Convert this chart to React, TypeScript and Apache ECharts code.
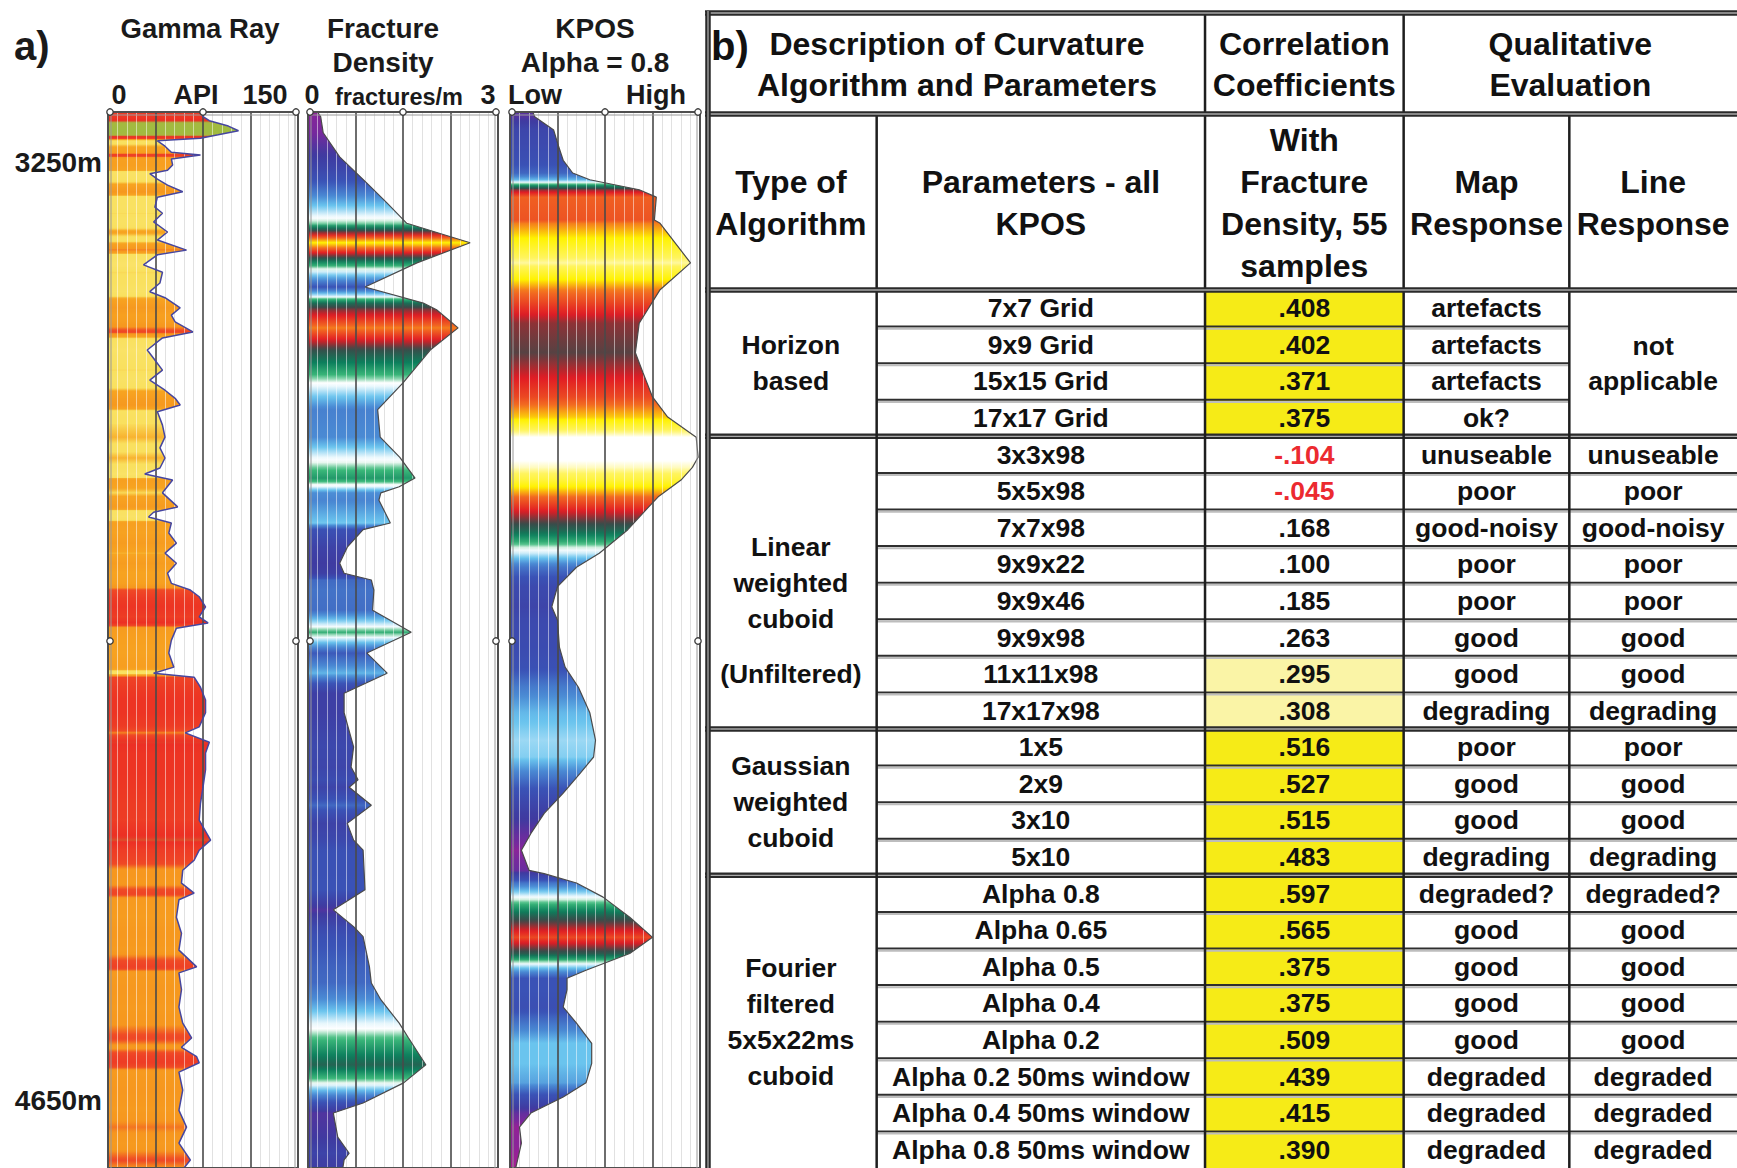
import { useEffect, useRef } from 'react';
import * as echarts from 'echarts';

// ---------------- data ----------------
const DEPTH_LABELS = [3250, 4650];

const GR_DEPTH = [3175,3182,3188,3196,3203,3209,3214,3218,3226,3235,3239,3245,3254,3262,3267,3275,3284,3294,3302,3317,3326,3339,3354,3366,3381,3388,3403,3414,3430,3443,3452,3467,3478,3488,3503,3512,3530,3545,3560,3575,3590,3602,3612,3622,3642,3660,3676,3691,3706,3715,3724,3743,3764,3772,3779,3788,3803,3818,3833,3848,3863,3878,3888,3898,3913,3928,3937,3945,3963,3982,4003,4012,4018,4033,4052,4071,4092,4101,4115,4131,4156,4182,4206,4231,4261,4276,4291,4306,4325,4340,4350,4376,4400,4425,4450,4459,4484,4510,4534,4556,4570,4584,4593,4607,4634,4664,4689,4713,4738,4750];
const GR_API = [73,75,80,95,103,87,73,39,45,50,73,50,51,47,33,39,47,59,39,37,43,36,47,39,62,39,28,43,41,33,45,57,50,53,67,43,31,37,43,33,45,53,57,39,43,45,41,45,41,29,51,43,55,36,32,50,48,54,45,54,47,50,65,72,77,72,79,54,50,48,52,36,68,73,77,77,72,61,80,77,77,75,73,72,81,72,68,59,58,68,56,54,58,56,70,56,58,56,59,66,58,70,72,56,59,56,62,56,65,60];

const FRAC_DEPTH = [3175,3182,3206,3242,3281,3311,3341,3370,3400,3436,3460,3470,3497,3530,3579,3619,3660,3690,3721,3734,3743,3754,3788,3798,3824,3848,3863,3873,3888,3918,3951,3982,4012,4042,4071,4122,4152,4171,4182,4209,4236,4261,4276,4335,4365,4390,4405,4450,4474,4499,4534,4555,4596,4623,4653,4668,4704,4728,4738,4750];
const FRAC_VALUE = [0.15,0.2,0.24,0.5,0.93,1.25,1.56,2.56,1.72,0.9,1.82,2.03,2.37,1.93,1.5,1.1,1.14,1.45,1.69,1.44,1.15,1.12,1.3,0.87,0.62,0.5,0.57,1.0,1.04,1.02,1.63,0.93,1.25,0.57,0.57,0.72,0.68,0.79,0.65,1.0,0.62,0.72,0.87,0.9,0.4,0.72,0.87,0.97,1.0,1.15,1.44,1.58,1.86,1.51,0.87,0.4,0.47,0.65,0.57,0.55];

const KPOS_DEPTH = [3175,3182,3202,3221,3247,3266,3276,3291,3302,3336,3341,3400,3440,3490,3534,3564,3600,3630,3660,3690,3705,3724,3749,3764,3798,3833,3854,3883,3913,3933,3973,4003,4033,4071,4112,4137,4161,4191,4221,4251,4276,4306,4311,4325,4346,4376,4406,4430,4455,4467,4484,4510,4534,4564,4594,4623,4644,4668,4689,4713,4738,4750];
const KPOS_VALUE = [0.12,0.13,0.23,0.25,0.28,0.33,0.42,0.68,0.77,0.76,0.79,0.95,0.79,0.68,0.66,0.70,0.75,0.83,0.98,0.99,0.96,0.90,0.78,0.73,0.62,0.47,0.35,0.25,0.22,0.25,0.26,0.29,0.36,0.42,0.45,0.44,0.37,0.28,0.18,0.11,0.06,0.10,0.18,0.35,0.49,0.63,0.75,0.63,0.40,0.30,0.30,0.28,0.35,0.43,0.43,0.40,0.28,0.11,0.05,0.06,0.04,0.03];

const HEADER_TOP = ['Description of Curvature\nAlgorithm and Parameters', 'Correlation\nCoefficients', 'Qualitative\nEvaluation'];
const HEADER_SUB = ['Type of\nAlgorithm', 'Parameters - all\nKPOS', 'With\nFracture\nDensity, 55\nsamples', 'Map\nResponse', 'Line\nResponse'];

const TYPE_LABELS = ['Horizon\nbased', 'Linear\nweighted\ncuboid', 'Gaussian\nweighted\ncuboid', 'Fourier\nfiltered\n5x5x22ms\ncuboid'];
const TYPE_ROWS = [4, 8, 4, 8];
const TYPE_NOTE_ROW = 10;
const TYPE_NOTE = '(Unfiltered)';
const LINE_MERGED_ROWS = 4;
const LINE_MERGED_TEXT = 'not\napplicable';

const PARAMS = ['7x7 Grid','9x9 Grid','15x15 Grid','17x17 Grid','3x3x98','5x5x98','7x7x98','9x9x22','9x9x46','9x9x98','11x11x98','17x17x98','1x5','2x9','3x10','5x10','Alpha 0.8','Alpha 0.65','Alpha 0.5','Alpha 0.4','Alpha 0.2','Alpha 0.2 50ms window','Alpha 0.4 50ms window','Alpha 0.8 50ms window'];
const CORR = [0.408,0.402,0.371,0.375,-0.104,-0.045,0.168,0.100,0.185,0.263,0.295,0.308,0.516,0.527,0.515,0.483,0.597,0.565,0.375,0.375,0.509,0.439,0.415,0.390];
const CORR_SHADE = ['strong','strong','strong','strong','','','','','','','weak','weak','strong','strong','strong','strong','strong','strong','strong','strong','strong','strong','strong','strong'];
const MAP_RESP = ['artefacts','artefacts','artefacts','ok?','unuseable','poor','good-noisy','poor','poor','good','good','degrading','poor','good','good','degrading','degraded?','good','good','good','good','degraded','degraded','degraded'];
const LINE_RESP = ['','','','','unuseable','poor','good-noisy','poor','poor','good','good','degrading','poor','good','good','degrading','degraded?','good','good','good','good','degraded','degraded','degraded'];

// ---------------- layout & style ----------------
const W = 1737;
const H = 1168;
const DEPTH_MIN = 3175;
const DEPTH_MAX = 4750;
const TRACK_TOP = 112;
const TRACK_H = 1056;
const TRACK_W = 190;
const TRACK_LEFT = [108, 308, 510];
const TRACK_MAX = [150, 3, 1];
const MARKER_Y_MID = 641;
const TABLE = { left: 705, top: 11, width: 1034, height: 1157 };
const COLS = [0, 172, 501, 700, 866, 1034];
const HEAD = [0, 103, 279];
const ROW_H = (TABLE.height - HEAD[2]) / PARAMS.length;

const FAMILY = '"Liberation Sans", Arial, Helvetica, sans-serif';
const FONT_BODY = `bold 26.5px ${FAMILY}`;
const FONT_HEAD = `bold 32px ${FAMILY}`;
const FONT_LABEL = `bold 40px ${FAMILY}`;

const CURV_CMAP: [number, string][] = [
  [0.0, '#c4168c'], [0.08, '#76299d'], [0.16, '#3f3aa0'], [0.3, '#3a52b6'], [0.38, '#4a8ad4'],
  [0.43, '#6ac4ee'], [0.48, '#e6f6fc'], [0.5, '#ffffff'], [0.53, '#3dba7b'], [0.59, '#0c7e5c'],
  [0.65, '#3b4a49'], [0.71, '#e11b24'], [0.78, '#f26a21'], [0.85, '#fff200'], [0.93, '#fff45e'],
  [0.98, '#ffffff'], [1.0, '#ffffff'],
];
const GR_CMAP: [number, string][] = [
  [0.0, '#fbe77a'], [0.284, '#f9e05e'], [0.305, '#f7a420'], [0.4, '#f6961e'], [0.43, '#ef4a25'],
  [0.53, '#ec2f24'], [0.57, '#a6b840'], [1.0, '#8cc63f'],
];

function hexToRgb(h: string) {
  const n = parseInt(h.slice(1), 16);
  return [(n >> 16) & 255, (n >> 8) & 255, n & 255];
}
function cmapColor(cmap: [number, string][], t: number) {
  const u = Math.max(0, Math.min(1, t));
  for (let i = 1; i < cmap.length; i++) {
    if (u <= cmap[i][0]) {
      const [t0, c0] = cmap[i - 1];
      const [t1, c1] = cmap[i];
      const f = t1 > t0 ? (u - t0) / (t1 - t0) : 0;
      const a = hexToRgb(c0);
      const b = hexToRgb(c1);
      const m = a.map((v, k) => Math.round(v + (b[k] - v) * f));
      return `rgb(${m[0]},${m[1]},${m[2]})`;
    }
  }
  return cmap[cmap.length - 1][1];
}

function fillRenderer(depths: number[], values: number[], vmax: number, cmap: [number, string][]) {
  return (params: any, api: any) => {
    if (params.dataIndex !== 0) return null;
    const n = depths.length;
    const pts: number[][] = [api.coord([0, depths[0]])];
    for (let i = 0; i < n; i++) pts.push(api.coord([values[i], depths[i]]));
    pts.push(api.coord([0, depths[n - 1]]));
    const yTop = pts[0][1];
    const yBot = pts[pts.length - 1][1];
    const span = yBot - yTop;
    const stops: { offset: number; color: string }[] = [];
    const SUB = 8;
    for (let i = 0; i < n - 1; i++) {
      for (let k = 0; k < SUB; k++) {
        const f = k / SUB;
        const v = values[i] + (values[i + 1] - values[i]) * f;
        const d = depths[i] + (depths[i + 1] - depths[i]) * f;
        const y = api.coord([0, d])[1];
        stops.push({ offset: Math.max(0, Math.min(1, (y - yTop) / span)), color: cmapColor(cmap, v / vmax) });
      }
    }
    stops.push({ offset: 1, color: cmapColor(cmap, values[n - 1] / vmax) });
    return {
      type: 'polygon',
      shape: { points: pts },
      style: { fill: new echarts.graphic.LinearGradient(0, yTop, 0, yBot, stops, true), stroke: 'none' },
    };
  };
}

const fmtCorr = (v: number) => (v < 0 ? '-' : '') + Math.abs(v).toFixed(3).replace(/^0/, '');

function txt(p: number[], text: string, font: string, fill = '#111', lineHeight = 36, align = 'center') {
  return {
    type: 'text',
    style: {
      text, x: p[0], y: p[1], font, fill, lineHeight,
      align, textAlign: align, verticalAlign: 'middle', textVerticalAlign: 'middle',
    },
  };
}
function ln(a: number[], b: number[], stroke: string, lineWidth: number) {
  return { type: 'line', shape: { x1: a[0], y1: a[1], x2: b[0], y2: b[1] }, style: { stroke, lineWidth } };
}
function dbl(a: number[], b: number[]) {
  return [ln(a, b, '#2a2a2a', 5.5), ln(a, b, '#a9a9a9', 1.3)];
}

const GROUP_START: number[] = [];
{
  let s = 0;
  TYPE_ROWS.forEach((r) => { GROUP_START.push(s); s += r; });
}
function groupOf(i: number) {
  for (let g = 0; g < TYPE_ROWS.length; g++) {
    if (i >= GROUP_START[g] && i < GROUP_START[g] + TYPE_ROWS[g]) return g;
  }
  return 0;
}
const rowY = (r: number) => HEAD[2] + r * ROW_H;
const colMid = (a: number, b: number) => (COLS[a] + COLS[b]) / 2;

function bodyCellsRender(params: any, api: any) {
  const i = params.dataIndex;
  const P = (x: number, y: number) => api.coord([x, y]);
  const y0 = rowY(i);
  const y1 = rowY(i + 1);
  const yc = (y0 + y1) / 2;
  const ch: any[] = [];
  if (CORR_SHADE[i]) {
    const a = P(COLS[2], y0);
    const b = P(COLS[3], y1);
    ch.push({
      type: 'rect',
      shape: { x: a[0], y: a[1], width: b[0] - a[0], height: b[1] - a[1] },
      style: { fill: CORR_SHADE[i] === 'strong' ? '#f6eb17' : '#faf4a6' },
    });
  }
  ch.push(txt(P(colMid(1, 2), yc), PARAMS[i], FONT_BODY));
  ch.push(txt(P(colMid(2, 3), yc), fmtCorr(CORR[i]), FONT_BODY, CORR[i] < 0 ? '#ec2a30' : '#111'));
  ch.push(txt(P(colMid(3, 4), yc), MAP_RESP[i], FONT_BODY));
  if (LINE_RESP[i]) ch.push(txt(P(colMid(4, 5), yc), LINE_RESP[i], FONT_BODY));
  if (i === 0) {
    ch.push(txt(P(colMid(4, 5), (rowY(0) + rowY(LINE_MERGED_ROWS)) / 2), LINE_MERGED_TEXT, FONT_BODY, '#111', 35));
  }
  const g = groupOf(i);
  if (GROUP_START[g] === i) {
    const ya = rowY(GROUP_START[g]);
    const yb = rowY(GROUP_START[g] + TYPE_ROWS[g]);
    ch.push(txt(P(colMid(0, 1), (ya + yb) / 2), TYPE_LABELS[g], FONT_BODY, '#111', 36));
  }
  if (i === TYPE_NOTE_ROW) ch.push(txt(P(colMid(0, 1), yc), TYPE_NOTE, FONT_BODY));
  return { type: 'group', children: ch };
}

function bodyLinesRender(params: any, api: any) {
  const i = params.dataIndex;
  const P = (x: number, y: number) => api.coord([x, y]);
  const y1 = rowY(i + 1);
  const g = groupOf(i);
  const last = GROUP_START[g] + TYPE_ROWS[g] - 1 === i;
  const ch: any[] = [];
  if (last) {
    if (i < PARAMS.length - 1) ch.push(...dbl(P(COLS[0], y1), P(COLS[5], y1)));
  } else {
    const xEnd = i >= LINE_MERGED_ROWS ? COLS[5] : COLS[4];
    ch.push(ln(P(COLS[1], y1), P(xEnd, y1), '#2e2e2e', 2));
    const a = P(COLS[1], y1);
    const b = P(xEnd, y1);
    ch.push(ln([a[0], a[1] + 2.2], [b[0], b[1] + 2.2], '#bdbdbd', 2));
  }
  return { type: 'group', children: ch };
}

function headerRender(params: any, api: any) {
  if (params.dataIndex !== 0) return null;
  const P = (x: number, y: number) => api.coord([x, y]);
  const ch: any[] = [];
  const r1 = (HEAD[0] + HEAD[1]) / 2 + 2;
  const r2 = (HEAD[1] + HEAD[2]) / 2 + 1;
  ch.push(txt(P(6, 35), 'b)', FONT_LABEL, '#111', 40, 'left'));
  ch.push(txt(P(colMid(0, 2) + 2, r1), HEADER_TOP[0], FONT_HEAD, '#111', 41));
  ch.push(txt(P(colMid(2, 3), r1), HEADER_TOP[1], FONT_HEAD, '#111', 41));
  ch.push(txt(P(colMid(3, 5), r1), HEADER_TOP[2], FONT_HEAD, '#111', 41));
  for (let c = 0; c < 5; c++) {
    ch.push(txt(P(colMid(c, c + 1), r2), HEADER_SUB[c], FONT_HEAD, '#111', 42));
  }
  const bottom = TABLE.height;
  ch.push(ln(P(COLS[1], HEAD[1]), P(COLS[1], bottom), '#1e1e1e', 2.5));
  ch.push(ln(P(COLS[2], HEAD[0]), P(COLS[2], bottom), '#1e1e1e', 2.5));
  ch.push(ln(P(COLS[3], HEAD[0]), P(COLS[3], bottom), '#1e1e1e', 2.5));
  ch.push(ln(P(COLS[4], HEAD[1]), P(COLS[4], bottom), '#1e1e1e', 2.5));
  ch.push(...dbl(P(COLS[0], HEAD[1]), P(COLS[5], HEAD[1])));
  ch.push(...dbl(P(COLS[0], HEAD[2]), P(COLS[5], HEAD[2])));
  ch.push(...dbl(P(COLS[0], 2), P(COLS[5], 2)));
  ch.push(...dbl(P(3, 0), P(3, bottom)));
  return { type: 'group', children: ch };
}

function gtext(x: number, y: number, text: string, size: number, align = 'center', lineHeight = 34) {
  return {
    type: 'text', x, y,
    style: {
      text, font: `bold ${size}px ${FAMILY}`, fill: '#1a1a1a', lineHeight,
      align, textAlign: align, verticalAlign: 'middle', textVerticalAlign: 'middle',
    },
  };
}

function trackDecor() {
  const els: any[] = [];
  TRACK_LEFT.forEach((l) => {
    els.push({
      type: 'rect', shape: { x: l + 3, y: TRACK_TOP + 3, width: TRACK_W - 6, height: TRACK_H },
      style: { fill: 'none', stroke: '#9a9a9a', lineWidth: 1 }, z: 20,
    });
    const marks = [
      [l + 2, TRACK_TOP], [l + TRACK_W / 2, TRACK_TOP], [l + TRACK_W - 2, TRACK_TOP],
      [l + 2, MARKER_Y_MID], [l + TRACK_W - 2, MARKER_Y_MID],
    ];
    marks.forEach(([cx, cy]) => {
      els.push({
        type: 'circle', shape: { cx, cy, r: 3.2 },
        style: { fill: '#ffffff', stroke: '#3a3a3a', lineWidth: 1.3 }, z: 21,
      });
    });
  });
  return els;
}

function buildOption() {
  const tracks = [
    { depths: GR_DEPTH, values: GR_API, cmap: GR_CMAP, outline: '#4646a0', width: 1.5 },
    { depths: FRAC_DEPTH, values: FRAC_VALUE, cmap: CURV_CMAP, outline: '#4a4a4a', width: 1.2 },
    { depths: KPOS_DEPTH, values: KPOS_VALUE, cmap: CURV_CMAP, outline: '#4a4a4a', width: 1.2 },
  ];
  const grid: any[] = TRACK_LEFT.map((l) => ({
    left: l, top: TRACK_TOP, width: TRACK_W, height: TRACK_H,
    show: true, borderColor: '#4f4f4f', borderWidth: 2, backgroundColor: 'transparent', z: 6,
  }));
  grid.push({ left: TABLE.left, top: TABLE.top, width: TABLE.width, height: TABLE.height, show: false });

  const xAxis: any[] = [];
  const yAxis: any[] = [];
  TRACK_MAX.forEach((max, gi) => {
    const base = {
      gridIndex: gi, type: 'value', min: 0, max, interval: max / 4,
      axisLine: { show: false }, axisTick: { show: false }, axisLabel: { show: false },
      minorTick: { show: false, splitNumber: 5 },
    };
    xAxis.push({
      ...base, position: 'bottom', z: 0,
      splitLine: { show: false },
      minorSplitLine: { show: true, lineStyle: { color: '#c2c2c2', width: 1 } },
    });
    xAxis.push({
      ...base, position: 'top', z: 4,
      splitLine: { show: true, lineStyle: { color: '#4a4a4a', width: 1.6 } },
      minorSplitLine: { show: true, lineStyle: { color: 'rgba(255,255,255,0.5)', width: 1 } },
    });
    yAxis.push({
      gridIndex: gi, type: 'value', inverse: true, min: DEPTH_MIN, max: DEPTH_MAX,
      axisLine: { show: false }, axisTick: { show: false }, splitLine: { show: false },
      axisLabel: gi === 0
        ? {
          show: true, customValues: DEPTH_LABELS, formatter: (v: number) => `${v}m`,
          fontSize: 28, fontWeight: 'bold', fontFamily: FAMILY, color: '#1a1a1a', margin: 6,
        }
        : { show: false },
    });
  });
  xAxis.push({ gridIndex: 3, type: 'value', min: 0, max: TABLE.width, show: false });
  yAxis.push({ gridIndex: 3, type: 'value', min: 0, max: TABLE.height, inverse: true, show: false });

  const series: any[] = [];
  tracks.forEach((t, gi) => {
    const data = t.depths.map((d, i) => [t.values[i], d]);
    series.push({
      type: 'custom', xAxisIndex: gi * 2, yAxisIndex: gi, data, encode: { x: 0, y: 1 },
      renderItem: fillRenderer(t.depths, t.values, TRACK_MAX[gi], t.cmap), z: 2, clip: true, silent: true,
    });
    series.push({
      type: 'line', xAxisIndex: gi * 2, yAxisIndex: gi, data, showSymbol: false, symbol: 'none',
      lineStyle: { color: t.outline, width: t.width }, z: 5, silent: true,
    });
  });
  const rowData = PARAMS.map((_, i) => [0, rowY(i)]);
  series.push({
    type: 'custom', xAxisIndex: 6, yAxisIndex: 3, data: rowData, encode: { x: 0, y: 1 },
    renderItem: bodyCellsRender, z: 3, silent: true,
  });
  series.push({
    type: 'custom', xAxisIndex: 6, yAxisIndex: 3, data: rowData, encode: { x: 0, y: 1 },
    renderItem: bodyLinesRender, z: 4, silent: true,
  });
  series.push({
    type: 'custom', xAxisIndex: 6, yAxisIndex: 3, data: [[0, 0]], encode: { x: 0, y: 1 },
    renderItem: headerRender, z: 6, silent: true,
  });

  const graphic = {
    elements: [
      gtext(14, 46, 'a)', 40, 'left'),
      gtext(200, 28, 'Gamma Ray', 27.5),
      gtext(383, 45, 'Fracture\nDensity', 28),
      gtext(595, 45, 'KPOS\nAlpha = 0.8', 28),
      gtext(119, 95, '0', 27),
      gtext(196, 95, 'API', 27),
      gtext(265, 95, '150', 27),
      gtext(312, 95, '0', 27),
      gtext(399, 97, 'fractures/m', 23.5),
      gtext(488, 95, '3', 27),
      gtext(535, 95, 'Low', 27),
      gtext(656, 95, 'High', 27),
      ...trackDecor(),
    ],
  };

  return { animation: false, backgroundColor: '#ffffff', grid, xAxis, yAxis, series, graphic };
}

export default function App() {
  const ref = useRef<HTMLDivElement>(null);
  useEffect(() => {
    if (!ref.current) return;
    const chart = echarts.init(ref.current, undefined, { renderer: 'svg' });
    chart.setOption(buildOption() as any);
    return () => chart.dispose();
  }, []);
  return (
    <div
      ref={ref}
      style={{ position: 'absolute', left: 0, top: 0, width: W, height: H, background: '#fff' }}
    />
  );
}
